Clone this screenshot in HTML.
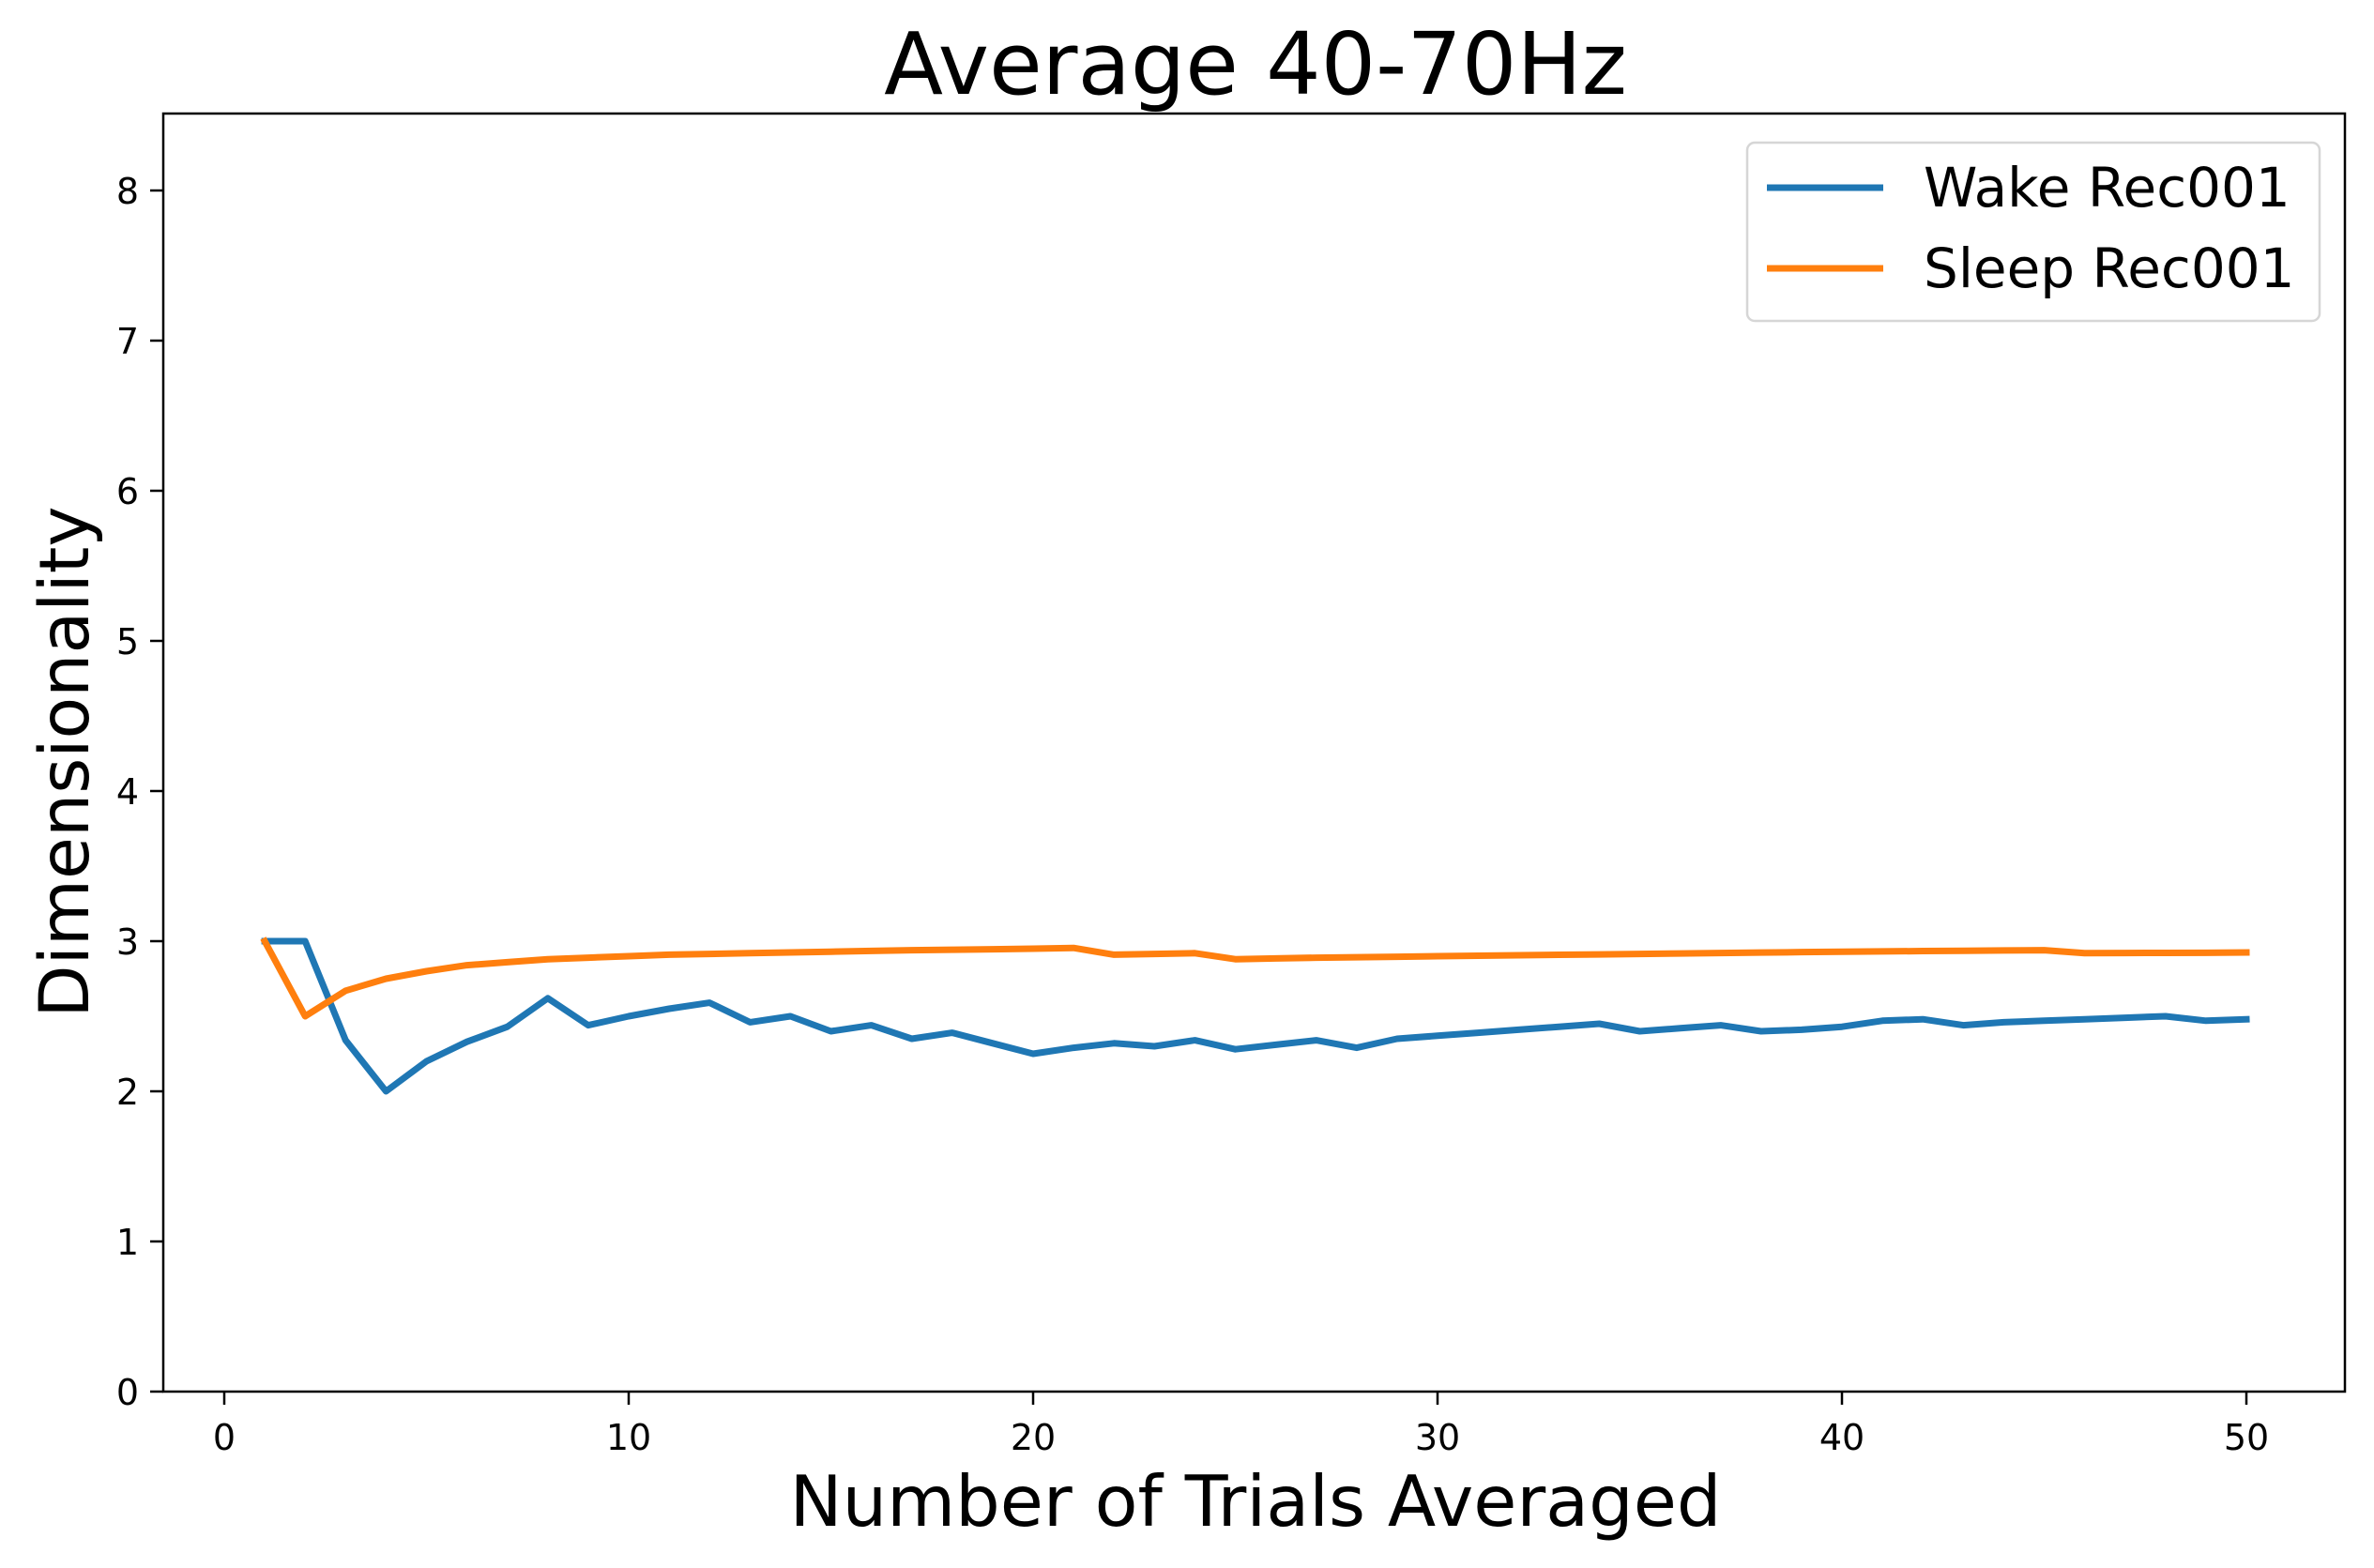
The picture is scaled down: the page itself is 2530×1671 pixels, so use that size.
<!DOCTYPE html>
<html><head><meta charset="utf-8"><style>
html,body{margin:0;padding:0;background:#fff;}
svg{display:block;font-family:"DejaVu Sans","Liberation Sans",sans-serif;}
</style></head><body>
<svg id="chart" width="2530" height="1671" viewBox="0 0 2530 1671">
<rect width="2530" height="1671" fill="#fff"/>
<text x="1338" y="100" font-size="92" text-anchor="middle">Average 40-70Hz</text>
<text x="1338" y="1626" font-size="75" text-anchor="middle">Number of Trials Averaged</text>
<text transform="translate(94,812) rotate(-90)" font-size="73" text-anchor="middle">Dimensionality</text>
<g id="plot"></g>
<rect x="174" y="121" width="2325" height="1362" fill="none" stroke="#000" stroke-width="2.5"/>
<g>
<rect x="1862" y="152" width="610" height="190" rx="8" fill="#fff" fill-opacity="0.8" stroke="#d6d6d6" stroke-width="2.5"/>
<line x1="1883" y1="200" x2="2007" y2="200" stroke="#1f77b4" stroke-width="7"/>
<text x="2050" y="220" font-size="58">Wake Rec001</text>
<line x1="1883" y1="286" x2="2007" y2="286" stroke="#ff7f0e" stroke-width="7"/>
<text x="2050" y="306" font-size="58">Sleep Rec001</text>
</g>
</svg>
<script>
const trials = Array.from({length:50},(_,i)=>i+1);
const wakeValues = [3.0,3.0,2.34,2.0,2.2,2.33,2.43,2.62,2.44,2.5,2.55,2.59,2.46,2.5,2.4,2.44,2.35,2.39,2.32,2.25,2.29,2.32,2.3,2.34,2.28,2.31,2.34,2.29,2.35,2.37,2.39,2.41,2.43,2.45,2.4,2.42,2.44,2.4,2.41,2.43,2.47,2.48,2.44,2.46,2.47,2.48,2.49,2.5,2.47,2.48];
const sleepValues = [3.0,2.5,2.67,2.75,2.8,2.84,2.86,2.88,2.89,2.9,2.91,2.915,2.92,2.925,2.93,2.935,2.94,2.943,2.946,2.95,2.955,2.91,2.915,2.92,2.88,2.885,2.89,2.893,2.896,2.9,2.903,2.906,2.909,2.912,2.915,2.918,2.921,2.924,2.927,2.93,2.932,2.934,2.936,2.938,2.94,2.92,2.921,2.922,2.923,2.925];
const xTicks = [0,10,20,30,40,50];
const yTicks = [0,1,2,3,4,5,6,7,8];
const X = v => 239 + (v-0)*(2394-239)/50;
const Y = v => 1483 - v*(1483-203)/8;
const NS="http://www.w3.org/2000/svg";
const g=document.getElementById('plot');
function mk(tag,attrs){const e=document.createElementNS(NS,tag);for(const k in attrs)e.setAttribute(k,attrs[k]);g.appendChild(e);return e;}
xTicks.forEach(t=>{
  const l=mk('line',{x1:X(t),x2:X(t),y1:1483,y2:1497,stroke:'#000','stroke-width':2.5});
  
  
  const tx=mk('text',{x:X(t),y:1545,'font-size':38,'text-anchor':'middle'});
  tx.textContent=t;
  
  
});
yTicks.forEach(t=>{
  const l=mk('line',{x1:160,x2:174,y1:Y(t),y2:Y(t),stroke:'#000','stroke-width':2.5});
  
  
  const tx=mk('text',{x:148,y:Y(t)+14,'font-size':38,'text-anchor':'end'});
  tx.textContent=t;
  
  
});
function series(vals,color,name){
  const p=mk('polyline',{points:vals.map((v,i)=>X(trials[i])+','+Y(v)).join(' '),fill:'none',stroke:color,'stroke-width':7,'stroke-linejoin':'round','stroke-linecap':'square'});
  
  
}
series(wakeValues,'#1f77b4','wake-line');
series(sleepValues,'#ff7f0e','sleep-line');
</script>
</body></html>
